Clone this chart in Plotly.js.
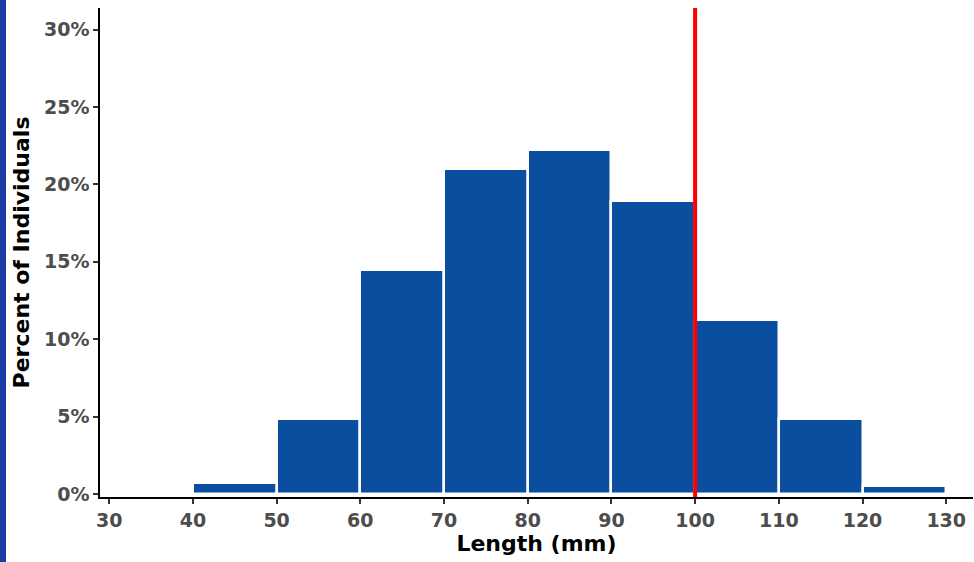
<!DOCTYPE html>
<html>
<head>
<meta charset="utf-8">
<script src="https://cdn.plot.ly/plotly-3.0.1.min.js"></script>
<style>
  html, body { margin: 0; padding: 0; background: #ffffff; }
  #wrap { position: relative; width: 974px; height: 562px; }
  #stripe { position: absolute; left: 0; top: 0; width: 6px; height: 562px; background: #1b3ca6; z-index: 5; }
  #chart { position: absolute; left: 0; top: 0; width: 974px; height: 562px; }
</style>
</head>
<body>
<div id="wrap"><div id="chart"></div><div id="stripe"></div></div>
<script>
// Histogram bins (mm) and percent of individuals
const binStarts = [40, 50, 60, 70, 80, 90, 100, 110, 120];
const binWidth = 10;
const percents = [0.7, 4.85, 14.5, 21.0, 22.2, 18.95, 11.25, 4.85, 0.5];
const xTicks = [30, 40, 50, 60, 70, 80, 90, 100, 110, 120, 130];
const yTicks = [0, 5, 10, 15, 20, 25, 30];
const yTickLabels = ["0%", "5%", "10%", "15%", "20%", "25%", "30%"];
const threshold = [100];

const centers = binStarts.map(b => b + binWidth / 2);

const trace = {
  type: 'bar',
  x: centers,
  y: percents,
  width: binStarts.map(() => binWidth),
  marker: { color: '#0a4f9f', line: { color: '#ffffff', width: 2.5 } },
  hoverinfo: 'x+y'
};

const fontFam = 'DejaVu Sans, Liberation Sans, Arial, sans-serif';

const layout = {
  width: 974,
  height: 562,
  paper_bgcolor: '#ffffff',
  plot_bgcolor: '#ffffff',
  showlegend: false,
  margin: { l: 100, r: 1, t: 8, b: 65 },
  bargap: 0,
  xaxis: {
    range: [28.9, 133.2],
    tickvals: xTicks,
    ticktext: xTicks.map(String),
    showgrid: false,
    zeroline: false,
    showline: true,
    linecolor: '#000000',
    linewidth: 1.5,
    ticks: 'outside',
    ticklen: 5,
    tickwidth: 1.5,
    tickcolor: '#333333',
    tickfont: { family: fontFam, size: 19, color: '#4d4d4d', weight: 'bold' },
    title: { text: '<b>Length (mm)</b>', font: { family: fontFam, size: 22, color: '#000000' }, standoff: 6 }
  },
  yaxis: {
    range: [-0.2, 31.4],
    tickvals: yTicks,
    ticktext: yTickLabels,
    showgrid: false,
    zeroline: false,
    showline: true,
    linecolor: '#000000',
    linewidth: 1.5,
    ticks: 'outside',
    ticklen: 5,
    tickwidth: 1.5,
    tickcolor: '#333333',
    tickfont: { family: fontFam, size: 19, color: '#4d4d4d', weight: 'bold' },
    title: { text: '<b>Percent of Individuals</b>', font: { family: fontFam, size: 22, color: '#000000' }, standoff: 8 }
  },
  shapes: threshold.map(t => ({
    type: 'line', xref: 'x', yref: 'paper',
    x0: t, x1: t, y0: 0, y1: 1,
    line: { color: '#ff0000', width: 4 }
  }))
};

Plotly.newPlot('chart', [trace], layout, { displayModeBar: false, responsive: false });
</script>
</body>
</html>
